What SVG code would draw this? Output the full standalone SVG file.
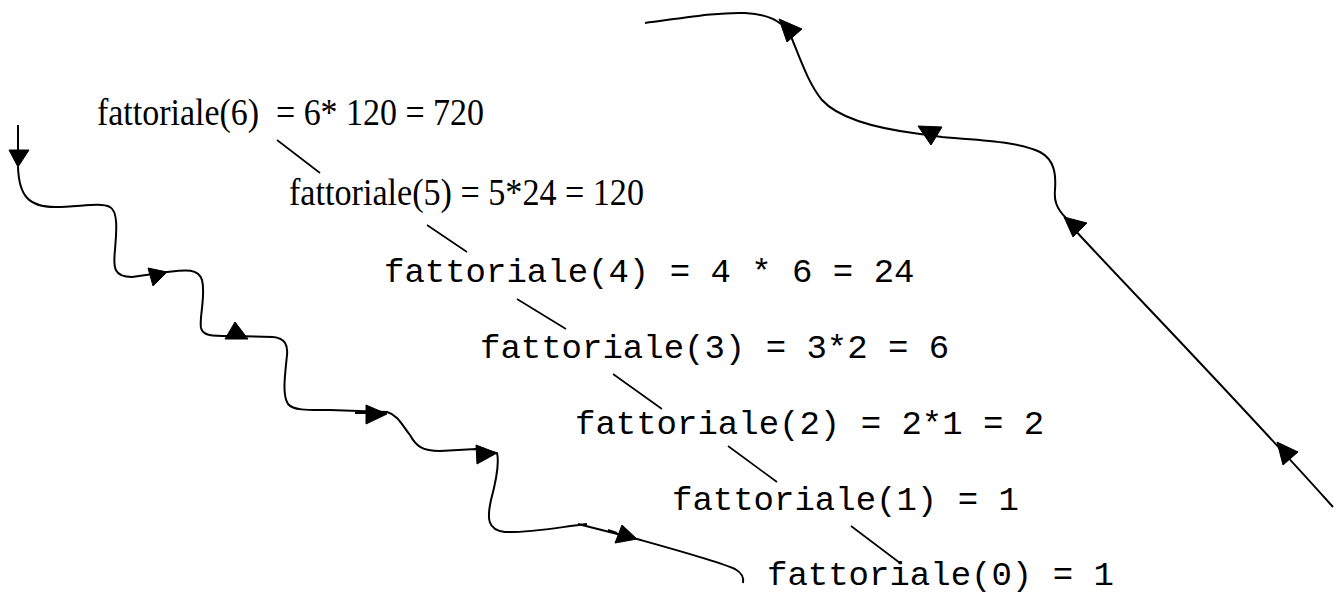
<svg xmlns="http://www.w3.org/2000/svg" width="1338" height="594" viewBox="0 0 1338 594">
<style>
.serif{font-family:"Liberation Serif","Times New Roman",serif;font-size:38px;fill:#000;white-space:pre}
.mono{font-family:"Liberation Mono","Courier New",monospace;font-size:34px;fill:#000;white-space:pre}
.flow{fill:none;stroke:#000;stroke-width:2}
.link{fill:none;stroke:#000;stroke-width:1.6}
.ah{fill:#000;stroke:#000;stroke-width:1}
</style>
<rect width="1338" height="594" fill="#fff"/>
<g id="n6"><text class="serif" x="97" y="125" textLength="387" lengthAdjust="spacingAndGlyphs" xml:space="preserve">fattoriale(6)  = 6* 120 = 720</text></g>
<g id="n5"><text class="serif" x="289" y="205" textLength="355" lengthAdjust="spacingAndGlyphs">fattoriale(5) = 5*24 = 120</text></g>
<g id="n4"><text class="mono" x="384" y="282">fattoriale(4) = 4 * 6 = 24</text></g>
<g id="n3"><text class="mono" x="480" y="358">fattoriale(3) = 3*2 = 6</text></g>
<g id="n2"><text class="mono" x="575" y="434">fattoriale(2) = 2*1 = 2</text></g>
<g id="n1"><text class="mono" x="672" y="510">fattoriale(1) = 1</text></g>
<g id="n0"><text class="mono" x="767" y="585">fattoriale(0) = 1</text></g>
<g id="connectors">
<line class="link" x1="277" y1="140" x2="320" y2="173"/>
<line class="link" x1="427" y1="225" x2="467" y2="252"/>
<line class="link" x1="517" y1="299" x2="566" y2="329"/>
<line class="link" x1="613" y1="374" x2="662" y2="409"/>
<line class="link" x1="728" y1="446" x2="777" y2="482"/>
<line class="link" x1="851" y1="526" x2="900" y2="563"/>
<path class="flow" d="M18,125 L18,152"/>
<path class="flow" d="M18,167 C19,195 28,207 55,207 C80,207 100,202 110,207 C119,212 116,235 115,250 C113,268 114,277 132,277 L167,272 C185,270 198,268 202,280 C206,295 199,318 201,328 C203,336 212,336 230,336 L273,337 C285,338 288,345 287,355 C285,375 282,395 288,404 C294,411 310,410 330,410 L387,412 C398,415 402,425 410,435 C416,446 422,451 440,451 L476,449 L497,453 C500,465 495,485 491,500 C487,518 487,530 505,532 C530,533 560,527 587,524"/>
<path class="flow" d="M578,524 L637,539 C680,551 720,562 735,569 C742,573 744,578 743,583"/>
<path class="flow" d="M355,413 L368,413 M608,530 L617,533"/>
<path class="flow" d="M645,23 C690,17 720,12 745,13 C765,14 775,19 781,24"/>
<path class="flow" d="M790,34 C800,58 808,83 822,100 C840,120 880,129 920,134 L942,137 C980,140 1020,142 1040,152 C1055,160 1056,175 1055,190 C1054,200 1056,208 1066,218"/>
<path class="flow" d="M1073,228 C1130,290 1230,392 1333,507"/>
<polygon class="ah" points="9,150 29,150 18,167"/>
<polygon class="ah" points="148,268 167,272 153,286"/>
<polygon class="ah" points="235,322 225,339 248,339"/>
<polygon class="ah" points="366,405 387,414 366,424"/>
<polygon class="ah" points="476,445 497,453 477,464"/>
<polygon class="ah" points="622,525 637,539 615,543"/>
<polygon class="ah" points="779,19 802,29 787,42"/>
<polygon class="ah" points="918,126 942,127 931,145"/>
<polygon class="ah" points="1064,217 1087,223 1073,237"/>
<polygon class="ah" points="1277,442 1298,452 1283,465"/>
</g>
</svg>
